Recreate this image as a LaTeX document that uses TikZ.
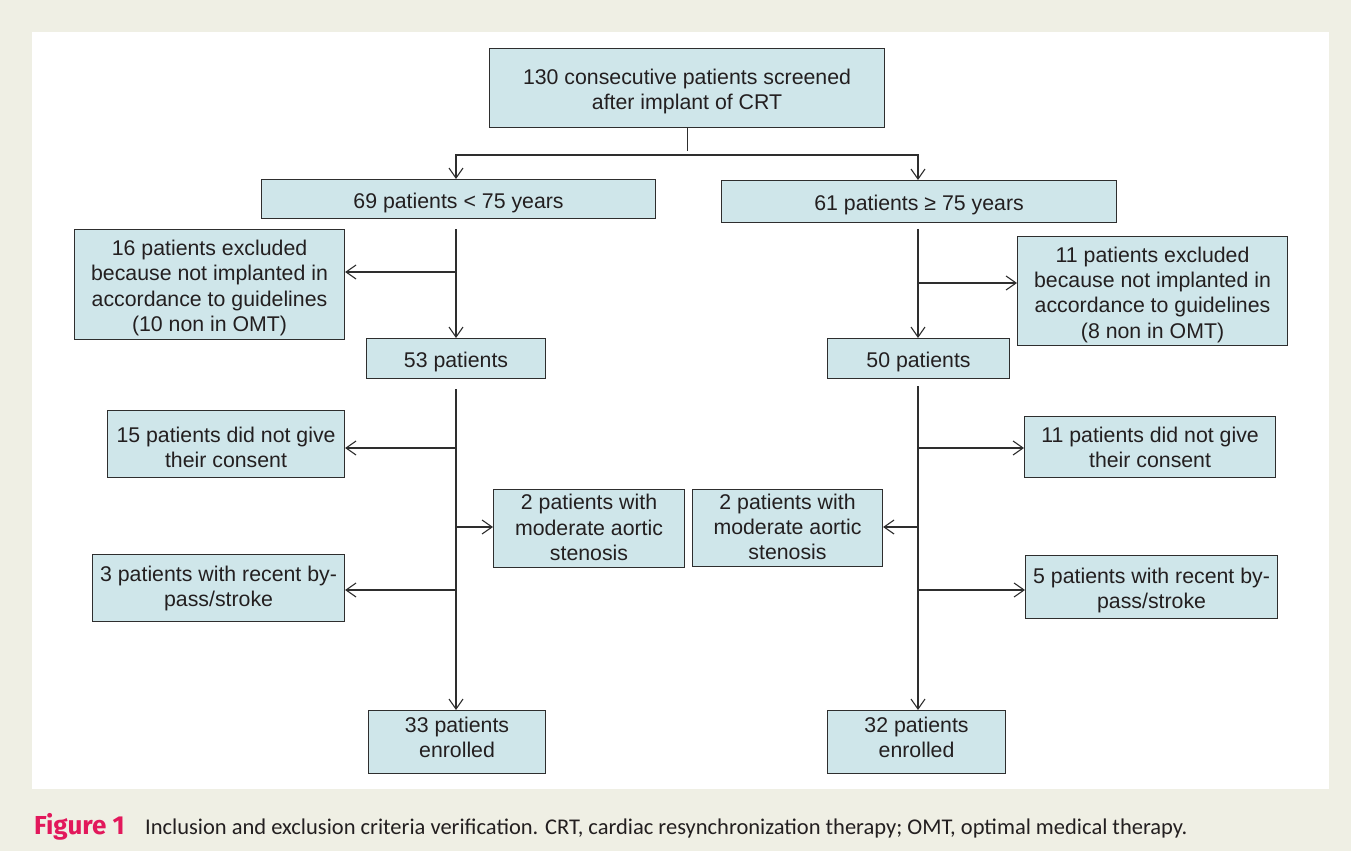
\documentclass[tikz,border=0pt]{standalone}
\usepackage{fontspec}
\setmainfont{Liberation Sans}
\newfontfamily\capfont{Carlito}
\newfontfamily\labfont{Fira Sans}
\usetikzlibrary{arrows.meta}
\definecolor{bgbeige}{HTML}{EFEFE4}
\definecolor{boxfill}{HTML}{CFE6EA}
\definecolor{boxline}{HTML}{2E2E2E}
\definecolor{inktext}{HTML}{231F20}
\definecolor{figred}{HTML}{E2185B}
\begin{document}
\begin{tikzpicture}[x=1pt,y=-1pt,
  flowbox/.style={draw=boxline, fill=boxfill, line width=1.1pt, align=center, inner sep=0pt, text=inktext, font=\fontsize{21.3}{25.3}\selectfont, anchor=north west},
  oneline/.style={text height=22.5pt},
  twolines/.style={text height=47.8pt},
  threelines/.style={text height=64pt},
  fourlines/.style={text height=98.4pt},
  arr/.style={draw=boxline, line width=1.1pt, -{Straight Barb[length=10pt,width=14pt]}},
  trunk/.style={draw=boxline, line width=1.1pt},
  captxt/.style={anchor=base west, inner sep=0pt, font=\capfont\fontsize{22.5}{26}\selectfont, text=inktext}]
\useasboundingbox (0,0) rectangle (1351,851);
\fill[bgbeige] (0,0) rectangle (1351,851);
\fill[white] (32,32) rectangle (1329,789);

\node[flowbox, twolines, minimum width=395pt, minimum height=79pt] (top) at (489,48) {130 consecutive patients screened\\after implant of CRT};
\node[flowbox, oneline, minimum width=394pt, minimum height=39pt] (b69) at (261,179) {69 patients < 75 years};
\node[flowbox, oneline, minimum width=395pt, minimum height=42pt] (b61) at (721,180) {61 patients ≥ 75 years};
\node[flowbox, fourlines, minimum width=270pt, minimum height=110pt] (b16) at (74,229) {16 patients excluded\\because not implanted in\\accordance to guidelines\\(10 non in OMT)};
\node[flowbox, fourlines, minimum width=270pt, minimum height=109pt] (b11a) at (1017,236) {11 patients excluded\\because not implanted in\\accordance to guidelines\\(8 non in OMT)};
\node[flowbox, oneline, minimum width=179pt, minimum height=40pt] (b53) at (366,338) {53 patients};
\node[flowbox, oneline, minimum width=182pt, minimum height=40pt] (b50) at (827,338) {50 patients};
\node[flowbox, twolines, minimum width=237pt, minimum height=67pt] (b15) at (107,410) {15 patients did not give\\their consent};
\node[flowbox, twolines, text height=41.8pt, minimum width=251pt, minimum height=61pt] (b11b) at (1024,416) {11 patients did not give\\their consent};
\node[flowbox, threelines, minimum width=191pt, minimum height=78pt] (b2L) at (493,489) {2 patients with\\moderate aortic\\stenosis};
\node[flowbox, threelines, minimum width=190pt, minimum height=77pt] (b2R) at (692,489) {2 patients with\\moderate aortic\\stenosis};
\node[flowbox, twolines, text height=41.8pt, minimum width=252pt, minimum height=67pt] (b3) at (92,554) {3 patients with recent by-\\pass/stroke};
\node[flowbox, twolines, minimum width=252pt, minimum height=63pt] (b5) at (1025,555) {5 patients with recent by-\\pass/stroke};
\node[flowbox, twolines, text height=31.8pt, minimum width=177pt, minimum height=63pt] (b33) at (368,710) {33 patients\\enrolled};
\node[flowbox, twolines, text height=31.8pt, minimum width=178pt, minimum height=63pt] (b32) at (827,710) {32 patients\\enrolled};

\coordinate (jM) at (686,155);
\coordinate (jL) at (456,155);
\coordinate (jR) at (918,155);
\draw[trunk] (top.south) -- ++(0,23);
\draw[arr] (jM) -- (jL) -- (jL |- b69.north);
\draw[arr] (jM) -- (jR) -- (jR |- b61.north);

\draw[arr, shorten <=10pt] (b69.south -| jL) -- (b53.north -| jL);
\coordinate (s16) at (456,272);
\draw[arr] (s16) -- (s16 -| b16.east);
\draw[arr, shorten <=10pt] (b53.south -| jL) -- (b33.north -| jL);
\coordinate (s15) at (456,448);
\draw[arr] (s15) -- (s15 -| b15.east);
\coordinate (s2L) at (456,527);
\draw[arr] (s2L) -- (s2L -| b2L.west);
\coordinate (s3) at (456,590);
\draw[arr] (s3) -- (s3 -| b3.east);

\draw[arr, shorten <=6pt] (b61.south -| jR) -- (b50.north -| jR);
\coordinate (s11a) at (918,283);
\draw[arr] (s11a) -- (s11a -| b11a.west);
\draw[arr, shorten <=7pt] (b50.south -| jR) -- (b32.north -| jR);
\coordinate (s11b) at (918,448);
\draw[arr] (s11b) -- (s11b -| b11b.west);
\coordinate (s2R) at (918,527);
\draw[arr] (s2R) -- (s2R -| b2R.east);
\coordinate (s5) at (918,590);
\draw[arr] (s5) -- (s5 -| b5.west);

\node[captxt, font=\labfont\bfseries\fontsize{26}{30}\selectfont, text=figred] (figlab) at (34,834) {Figure 1};
\node[captxt] (captext) at (145,834) {Inclusion and exclusion criteria verification. CRT, cardiac resynchronization therapy; OMT, optimal medical therapy.};
\end{tikzpicture}
\end{document}
